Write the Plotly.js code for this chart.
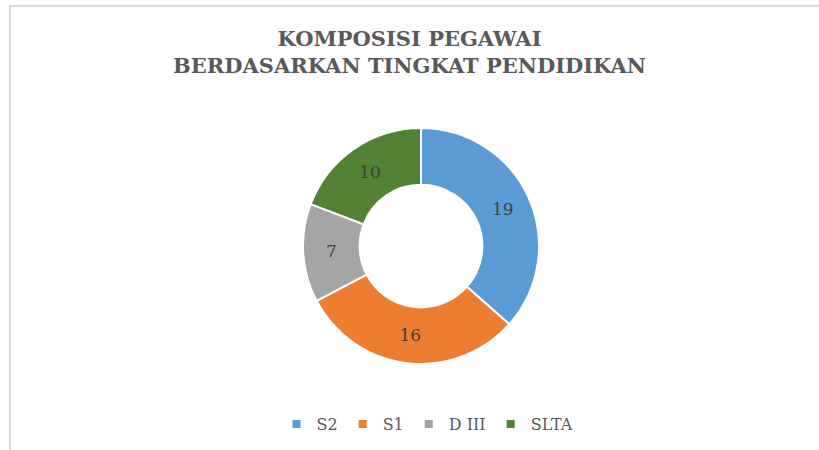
<!DOCTYPE html>
<html>
<head>
<meta charset="utf-8">
<script src="https://cdn.plot.ly/plotly-3.0.1.min.js"></script>
<style>
  html, body { margin: 0; padding: 0; background: #ffffff; }
  #frame { position: absolute; left: 9px; top: 5px; width: 812px; height: 447px; border-left: 2px solid #d9d9d9; border-top: 2px solid #d9d9d9; }
  #chart { position: absolute; left: 0; top: 0; width: 819px; height: 450px; }
</style>
</head>
<body>
<div id="frame"></div>
<div id="chart"></div>
<script>
const categories = ['S2', 'S1', 'D III', 'SLTA'];
const values = [19, 16, 7, 10];
const colors = ['#5B9BD5', '#ED7D31', '#A5A5A5', '#548235'];
const titleText = 'KOMPOSISI PEGAWAI<br>BERDASARKAN TINGKAT PENDIDIKAN';

const W = 819, H = 450;
const cx = 421, cy = 246, r = 118;

const traces = [{
  type: 'pie',
  labels: categories,
  values: values,
  hole: 0.52,
  sort: false,
  direction: 'clockwise',
  rotation: 0,
  marker: { colors: colors, line: { color: '#ffffff', width: 2 } },
  textinfo: 'value',
  textposition: 'inside',
  insidetextorientation: 'horizontal',
  textfont: { family: 'DejaVu Serif', size: 17, color: '#404040' },
  showlegend: false,
  hoverinfo: 'label+value',
  domain: { x: [(cx - r) / W, (cx + r) / W], y: [(H - cy - r) / H, (H - cy + r) / H] }
}];

categories.forEach((c, i) => {
  traces.push({
    type: 'scatter', mode: 'markers', x: [null], y: [null], name: c,
    marker: { symbol: 'square', size: 8, color: colors[i] },
    showlegend: true, hoverinfo: 'skip'
  });
});

const layout = {
  width: W, height: H,
  margin: { l: 0, r: 0, t: 0, b: 0 },
  paper_bgcolor: 'rgba(0,0,0,0)',
  plot_bgcolor: 'rgba(0,0,0,0)',
  title: {
    text: titleText,
    font: { family: 'DejaVu Serif', size: 21, color: '#595959', weight: 'bold' },
    x: 0.5, xanchor: 'center', xref: 'paper',
    y: 1 - 46 / H, yanchor: 'top', yref: 'container'
  },
  xaxis: { visible: false, domain: [0, 1] },
  yaxis: { visible: false, domain: [0, 1] },
  showlegend: true,
  legend: {
    orientation: 'h', x: 0.522, xanchor: 'center', y: 1 - 424 / H, yanchor: 'middle',
    font: { family: 'DejaVu Serif', size: 16, color: '#595959' },
    itemclick: false, itemdoubleclick: false
  }
};

Plotly.newPlot('chart', traces, layout, { displayModeBar: false, staticPlot: true });
</script>
</body>
</html>
